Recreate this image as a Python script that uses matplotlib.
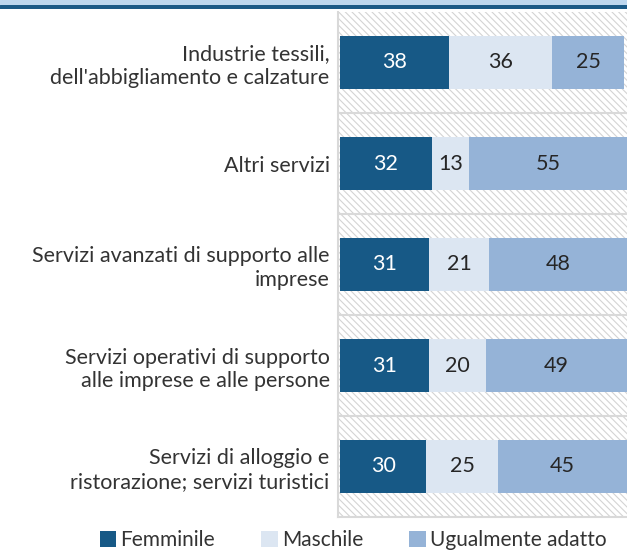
import matplotlib
matplotlib.use("Agg")
import matplotlib.pyplot as plt
from matplotlib.patches import Rectangle
import numpy as np

categories = [
    "Industrie tessili,\ndell'abbigliamento e calzature",
    "Altri servizi",
    "Servizi avanzati di supporto alle\nimprese",
    "Servizi operativi di supporto\nalle imprese e alle persone",
    "Servizi di alloggio e\nristorazione; servizi turistici",
]
femminile = [38, 32, 31, 31, 30]
maschile = [36, 13, 21, 20, 25]
ugualmente = [25, 55, 48, 49, 45]
series_names = ["Femminile", "Maschile", "Ugualmente adatto"]

colors = ["#175986", "#DCE6F2", "#95B3D7"]
text_colors = ["white", "#262626", "#262626"]

plt.rcParams['font.family'] = ['Lato', 'DejaVu Sans']
plt.rcParams['hatch.color'] = '#D4D4D4'
plt.rcParams['hatch.linewidth'] = 0.8

W, H = 627, 551
fig = plt.figure(figsize=(W / 100, H / 100), dpi=100)

# top band
band = fig.add_axes([0, 1 - 5 / H, 1, 5 / H])
band.set_axis_off()
band.add_patch(Rectangle((0, 0), 1, 1, transform=band.transAxes, color="#BDD7EE"))
band2 = fig.add_axes([0, 1 - 9 / H, 1, 4 / H])
band2.set_axis_off()
band2.add_patch(Rectangle((0, 0), 1, 1, transform=band2.transAxes, color="#1B5A86"))

left_px, right_px, top_px, bot_px = 338, 627, 12, 517
ax = fig.add_axes([left_px / W, 1 - bot_px / H, (right_px - left_px) / W, (bot_px - top_px) / H])

n = len(categories)
y = np.arange(n)
ax.set_xlim(-0.7, 100)
ax.set_ylim(n - 0.5, -0.5)

# hatched background
ax.add_patch(Rectangle((-0.7, -0.5), 100.7, n, facecolor="white", hatch="\\\\\\\\\\",
                       edgecolor="#D4D4D4", linewidth=0, zorder=0))
for b in range(1, n):
    ax.axhline(b - 0.5, color="#D9D9D9", linewidth=1.5, zorder=1)

data = [femminile, maschile, ugualmente]
left = np.zeros(n)
for vals, c, tc, name in zip(data, colors, text_colors, series_names):
    vals = np.array(vals, dtype=float)
    ax.barh(y, vals, left=left, height=0.52, color=c, label=name, zorder=2)
    for yi, l, v in zip(y, left, vals):
        ax.text(l + v / 2, yi, f"{int(v)}", ha="center", va="center", color=tc,
                fontsize=15.5, zorder=3)
    left += vals

ax.set_yticks(y)
ax.set_yticklabels(categories, fontsize=15.5, color="#333333", linespacing=1.22)
ax.tick_params(axis="y", length=0, pad=6)
ax.set_xticks([])
for s in ["top", "right"]:
    ax.spines[s].set_visible(False)
for s in ["left", "bottom"]:
    ax.spines[s].set_color("#D9D9D9")
    ax.spines[s].set_linewidth(1.5)

handles, labels = ax.get_legend_handles_labels()
fig.legend(handles, labels, loc="center", bbox_to_anchor=(353 / W, 1 - 540 / H),
           ncol=3, frameon=False, fontsize=15, handlelength=0.8, handleheight=0.8,
           handletextpad=0.2, columnspacing=2.2, labelcolor="#333333")

fig.savefig("out.png", dpi=100)
